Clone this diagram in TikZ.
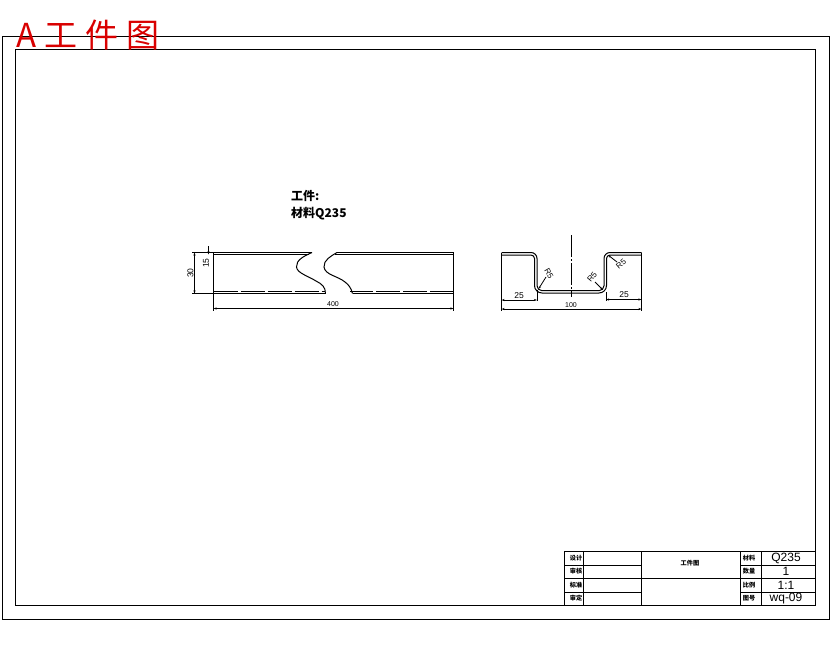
\documentclass[tikz,border=0pt]{standalone}
\usepackage{fontspec}
\setmainfont{Liberation Sans}
\newfontfamily\cjk{Noto Sans CJK SC}
\newfontfamily\titlefont[LetterSpace=24]{Noto Sans CJK SC}
\newfontfamily\plain{Liberation Sans}
\usetikzlibrary{arrows.meta}
\tikzset{
  frame/.style={draw=black,line width=1pt},
  part/.style={draw=black,line width=1pt},
  thin line/.style={draw=black,line width=0.8pt},
  dim/.style={draw=black,line width=0.8pt,-{Stealth[length=3pt,width=2pt]}},
  dimboth/.style={draw=black,line width=0.8pt,{Stealth[length=3pt,width=2pt]}-{Stealth[length=3pt,width=2pt]}},
  dimlabel/.style={font=\plain\fontsize{8.5}{8.5}\selectfont,inner sep=0pt},
  widelabel/.style={font=\plain\fontsize{7}{7}\selectfont,inner sep=0pt},
  radlabel/.style={font=\plain\fontsize{8}{8}\selectfont,inner sep=0pt},
  cell/.style={font=\cjk\bfseries\fontsize{6.2}{6.2}\selectfont,inner sep=0pt},
  val/.style={font=\plain\fontsize{12}{12}\selectfont,inner sep=0pt},
}
\begin{document}
\begin{tikzpicture}[x=1pt,y=-1pt]
\useasboundingbox (0,0) rectangle (830,654);
\fill[white] (0,0) rectangle (830,654);
\draw[frame] (2,36) rectangle (829,619);
\draw[frame] (15,49) rectangle (815,605);
\node[text=red!85!black,font=\titlefont\fontsize{33}{33}\selectfont,anchor=west,inner sep=0pt] (title) at (16,35) {A工件图};
\node[font=\cjk\bfseries\fontsize{12}{12}\selectfont,anchor=west,inner sep=0pt] (t1) at (291,195.5) {工件:};
\node[font=\cjk\bfseries\fontsize{12}{12}\selectfont,anchor=west,inner sep=0pt] (t2) at (291,213.5) {材料Q235};
% left view
\draw[part] (312,252.5) -- (213.5,252.5) -- (213.5,293.5) -- (325.5,293.5);
\draw[part] (309,254.8) -- (213.5,254.8);
\draw[part] (337,252.5) -- (453.5,252.5) -- (453.5,293.5) -- (352.5,293.5);
\draw[part] (335,254.8) -- (453.5,254.8);
\draw[part,dash pattern=on 24pt off 3pt] (213.5,291) -- (325,291);
\draw[part,dash pattern=on 24pt off 3pt] (453.5,291) -- (350,291);
\draw[part] (312,252.5) .. controls (304,256) and (296,260) .. (296.5,267) .. controls (297,273) and (308,276) .. (316,281) .. controls (322,284) and (325.5,287) .. (325.5,293.5);
\draw[part] (337,252.5) .. controls (331,256) and (323.5,260) .. (324,267) .. controls (325,275) and (338,276) .. (345,282) .. controls (349,285) and (351,288) .. (352.5,293.5);
% dims left
\draw[thin line] (213,252.5) -- (192,252.5) (213,293.5) -- (192,293.5);
\draw[dimboth] (194.5,252.5) -- (194.5,293.5);
\node[dimlabel,rotate=90] (d30) at (190.5,273) {30};
\draw[dim] (208.5,246) -- (208.5,254.5);
\node[dimlabel,rotate=90] (d15) at (206,263) {15};
\draw[thin line] (213.5,294) -- (213.5,311) (453.5,294) -- (453.5,311);
\draw[dimboth] (213.5,308.5) -- (453.5,308.5);
\node[widelabel] (d400) at (333,304.5) {400};
% right view
\draw[part] (501.5,252.5) -- (531,252.5) arc[start angle=-90,end angle=0,radius=6] -- (537,285.7) arc[start angle=180,end angle=90,radius=5] -- (599,290.7) arc[start angle=90,end angle=0,radius=5] -- (604,258.5) arc[start angle=180,end angle=270,radius=6] -- (641.5,252.5);
\draw[part] (501.5,255) -- (531,255) arc[start angle=-90,end angle=0,radius=3.5] -- (534.5,285.5) arc[start angle=180,end angle=90,radius=7.5] -- (599,293) arc[start angle=90,end angle=0,radius=7.5] -- (606.5,258.5) arc[start angle=180,end angle=270,radius=3.5] -- (641.5,255);
\draw[thin line] (501.5,252.5) -- (501.5,311) (641.5,252.5) -- (641.5,311);
\draw[thin line] (537,290) -- (537,301) (606,292) -- (606,301);
\draw[thin line,dash pattern=on 22pt off 2pt on 2pt off 2pt] (571.5,235) -- (571.5,297);
\draw[dimboth] (501.5,300) -- (537,300);
\draw[dimboth] (606,299.5) -- (641.5,299.5);
\draw[dimboth] (501.5,309) -- (641.5,309);
\node[dimlabel] (a25) at (519,295.5) {25};
\node[dimlabel] (b25) at (624,295) {25};
\node[widelabel] (c100) at (571,305.5) {100};
\draw[dim] (546,277) -- (538.5,289);
\draw[dim] (595,282) -- (603,290);
\draw[dim] (617,262) -- (608,255);
\node[radlabel,rotate=-60] (r1) at (549,274) {R5};
\node[radlabel,rotate=50] (r2) at (592,277) {R5};
\node[radlabel,rotate=40] (r3) at (621,264) {R5};
% title block
\draw[frame] (564,551) rectangle (815,605);
\draw[frame] (564,565) -- (641.5,565) (564,578) -- (740,578) (564,592) -- (641.5,592);
\draw[frame] (740,565) -- (815,565) (740,578) -- (815,578) (740,592) -- (815,592);
\draw[frame] (583,551) -- (583,605) (641.5,551) -- (641.5,605) (740,551) -- (740,605) (761,551) -- (761,605);
\node[cell] (c1) at (576,558) {设计};
\node[cell] (c2) at (576,571.5) {审核};
\node[cell] (c3) at (576,585) {标准};
\node[cell] (c4) at (576,598.5) {审定};
\node[cell] (c5) at (690,563.5) {工件图};
\node[cell] (c6) at (749,558) {材料};
\node[cell] (c7) at (749,571.5) {数量};
\node[cell] (c8) at (749,585) {比例};
\node[cell] (c9) at (749,598.5) {图号};
\node[val] (v1) at (786,558) {Q235};
\node[val] (v2) at (786,571) {1};
\node[val] (v3) at (786,585) {1:1};
\node[val] (v4) at (786,598.5) {wq-09};
\end{tikzpicture}
\end{document}
